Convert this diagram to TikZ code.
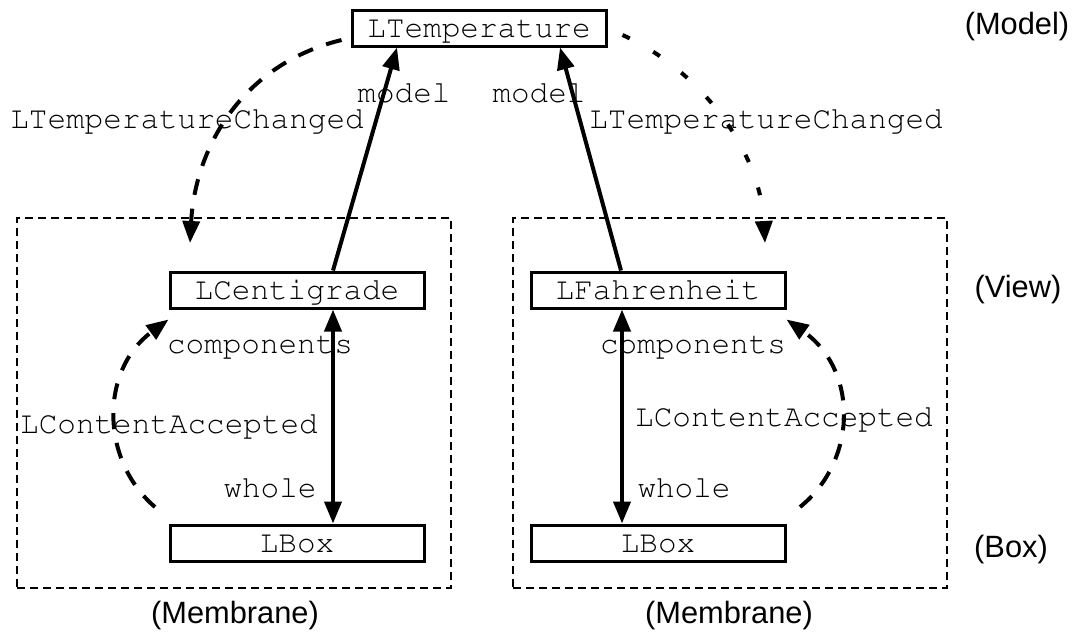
\documentclass[tikz,border=0pt]{standalone}
\usepackage[T1,TU]{fontenc}
\usepackage{fontspec}
\setmainfont{Liberation Sans}
\newcommand{\courfont}{\fontencoding{T1}\fontfamily{pcr}\fontseries{m}\fontshape{n}\fontsize{15.5}{18}\selectfont}
\usetikzlibrary{arrows.meta,calc}
\begin{document}
\begin{tikzpicture}[x=0.5pt,y=-0.5pt,
 cls/.style={draw,line width=1.5pt,minimum width=127pt,minimum height=18pt,inner sep=0pt,text height=9pt,text depth=0pt,font=\courfont},
 lbl/.style={font=\courfont,inner sep=0pt,anchor=base},
 layer/.style={font=\fontsize{15.4}{18}\selectfont,inner sep=0pt},
 membrane/.style={draw,line width=1.2pt,dash pattern=on 4pt off 2.5pt,minimum width=217pt,minimum height=185pt,inner sep=0pt},
 rel/.style={line width=2pt,-{Triangle[length=11pt,width=8.5pt]}},
 both/.style={line width=2pt,{Triangle[length=11pt,width=8.5pt]}-{Triangle[length=11pt,width=8.5pt]}},
 ev/.style={line width=2pt,dash pattern=on 8pt off 7pt,-{Triangle[length=11pt,width=8.5pt]}},
 evdot/.style={line width=2pt,dash pattern=on 4pt off 13.5pt,-{Triangle[length=11pt,width=8.5pt]}}]
\useasboundingbox (0,0) rectangle (1074,633);
\node[membrane] (meml) at (234,403) {};
\node[membrane] (memr) at (730,403) {};
\node[cls] (temp) at (479,28) {LTemperature};
\node[cls] (cent) at (297,290) {LCentigrade};
\node[cls] (boxl) at (297,543) {LBox};
\node[cls] (fahr) at (658,290) {LFahrenheit};
\node[cls] (boxr) at (658,543) {LBox};
\node[layer] (lmodel) at (1017,27) {(Model)};
\node[layer] (lview) at (1018,290) {(View)};
\node[layer] (lbox) at (1011,550) {(Box)};
\node[layer] (lmeml) at (235,616) {(Membrane)};
\node[layer] (lmemr) at (729,616) {(Membrane)};
\draw[rel] ($(cent.north)+(36,0)$) -- ($(temp.south)+(-82,0)$);
\draw[rel] ($(fahr.north)+(-37,0)$) -- ($(temp.south)+(81,0)$);
\draw[both] ($(cent.south)+(36,0)$) -- ($(boxl.north)+(36,0)$);
\draw[both] ($(fahr.south)+(-36,0)$) -- ($(boxr.north)+(-36,0)$);
\coordinate (tl) at (190,243);
\draw[ev] ($(temp.west)+(-9,12)$) .. controls (240,65) and (195,150) .. (tl);
\coordinate (tr) at (765,243);
\draw[evdot] ($(temp.east)+(15,7)$) .. controls (700,70) and (760,150) .. (tr);
\coordinate (cl) at (155,507);
\draw[ev] (cl) .. controls (100,460) and (100,370) .. ($(cent.south west)+(0,10)$);
\coordinate (cr) at (800,507);
\draw[ev] (cr) .. controls (858,460) and (858,370) .. ($(fahr.south east)+(0,10)$);
\node[lbl] (m1) at (404,102) {model};
\node[lbl] (m2) at (539,102) {model};
\node[lbl] (tc1) at (187,128) {LTemperatureChanged};
\node[lbl] (tc2) at (766,128) {LTemperatureChanged};
\node[lbl] (c1) at (260,353) {components};
\node[lbl] (c2) at (693,353) {components};
\node[lbl] (w1) at (270,497) {whole};
\node[lbl] (w2) at (684,497) {whole};
\node[lbl] (ca1) at (169,433) {LContentAccepted};
\node[lbl] (ca2) at (784,426) {LContentAccepted};
\end{tikzpicture}
\end{document}
